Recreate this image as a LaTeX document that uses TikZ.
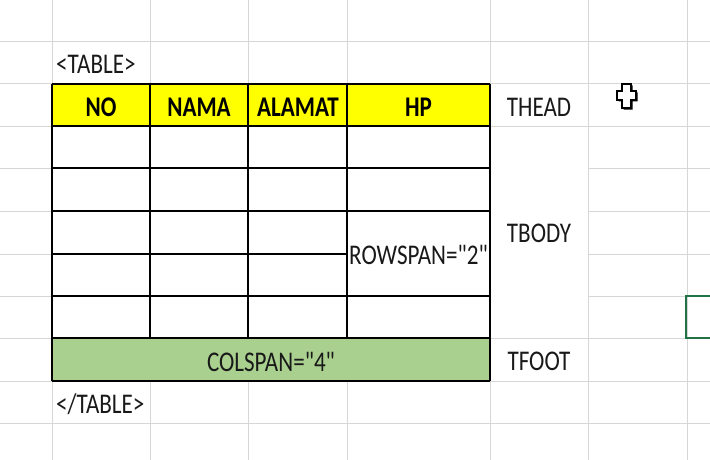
\documentclass[tikz,border=0pt]{standalone}
\usepackage{fontspec}
\setmainfont[FakeStretch=0.81,Ligatures=TeXOff]{Carlito}
\definecolor{gridc}{RGB}{214,214,214}
\definecolor{hdryellow}{RGB}{255,255,0}
\definecolor{footgreen}{RGB}{169,208,142}
\definecolor{selgreen}{RGB}{33,115,70}
\begin{document}
\begin{tikzpicture}[x=1pt,y=-1pt,
  grid/.style={draw=gridc,line width=1pt},
  border/.style={draw=black,line width=1.4pt},
  lbl/.style={inner sep=0pt,font=\fontsize{28.5}{32}\selectfont,text=black!90},
  hdr/.style={inner sep=0pt,font=\fontsize{28.5}{32}\selectfont\bfseries,text=black}]
\useasboundingbox[fill=white] (0,0) rectangle (710,460);
% spreadsheet gridlines
\foreach \y in {42,84,126,168,211,254,296,338,381,423}
  \draw[grid] (0,\y) -- (710,\y);
\foreach \x in {52,150,248,347,490,588,687}
  \draw[grid] (\x,0) -- (\x,460);
% merged TBODY label cell hides its inner gridlines
\fill[white] (491,127) rectangle (587.5,337.5);
% table fills
\fill[hdryellow] (52,84) rectangle (490,126);
\fill[white] (52,126) rectangle (490,338);
\fill[footgreen] (52,338) rectangle (490,381);
% table borders
\foreach \y in {84,126,168,211,296,338,381}
  \draw[border] (52,\y) -- (490,\y);
\draw[border] (52,254) -- (347,254);
\draw[border] (52,84) -- (52,381);
\draw[border] (490,84) -- (490,381);
\foreach \x in {150,248,347}
  \draw[border] (\x,84) -- (\x,338);
% texts
\node[lbl,anchor=west] (topen) at (56,64.5) {<TABLE>};
\node[hdr] (hno) at (101,107) {NO};
\node[hdr] (hnama) at (199,107) {NAMA};
\node[hdr] (halamat) at (298,107) {ALAMAT};
\node[hdr] (hhp) at (418.5,107) {HP};
\node[lbl] (rowspan) at (418.5,255) {ROWSPAN="2"};
\node[lbl] (colspan) at (271,361.5) {COLSPAN="4"};
\node[lbl,anchor=west] (tclose) at (56,404.5) {</TABLE>};
\node[lbl] (thead) at (539,107) {THEAD};
\node[lbl] (tbody) at (539,233.5) {TBODY};
\node[lbl] (tfoot) at (539,361.5) {TFOOT};
% selected cell
\draw[selgreen,line width=2.6pt] (711,296) -- (686,296) -- (686,338) -- (711,338);
% mouse cursor
\fill[black] (623.5,85.5) -- (632.5,85.5) -- (632.5,92.5) -- (637.5,92.5) -- (637.5,101.5) -- (632.5,101.5) -- (632.5,109.5) -- (623.5,109.5) -- (623.5,101.5) -- (618.5,101.5) -- (618.5,92.5) -- (623.5,92.5) -- cycle;
\draw[fill=white,line width=1.3pt] (622,84) -- (631,84) -- (631,91) -- (636,91) -- (636,100) -- (631,100) -- (631,108) -- (622,108) -- (622,100) -- (617,100) -- (617,91) -- (622,91) -- cycle;
\end{tikzpicture}
\end{document}
